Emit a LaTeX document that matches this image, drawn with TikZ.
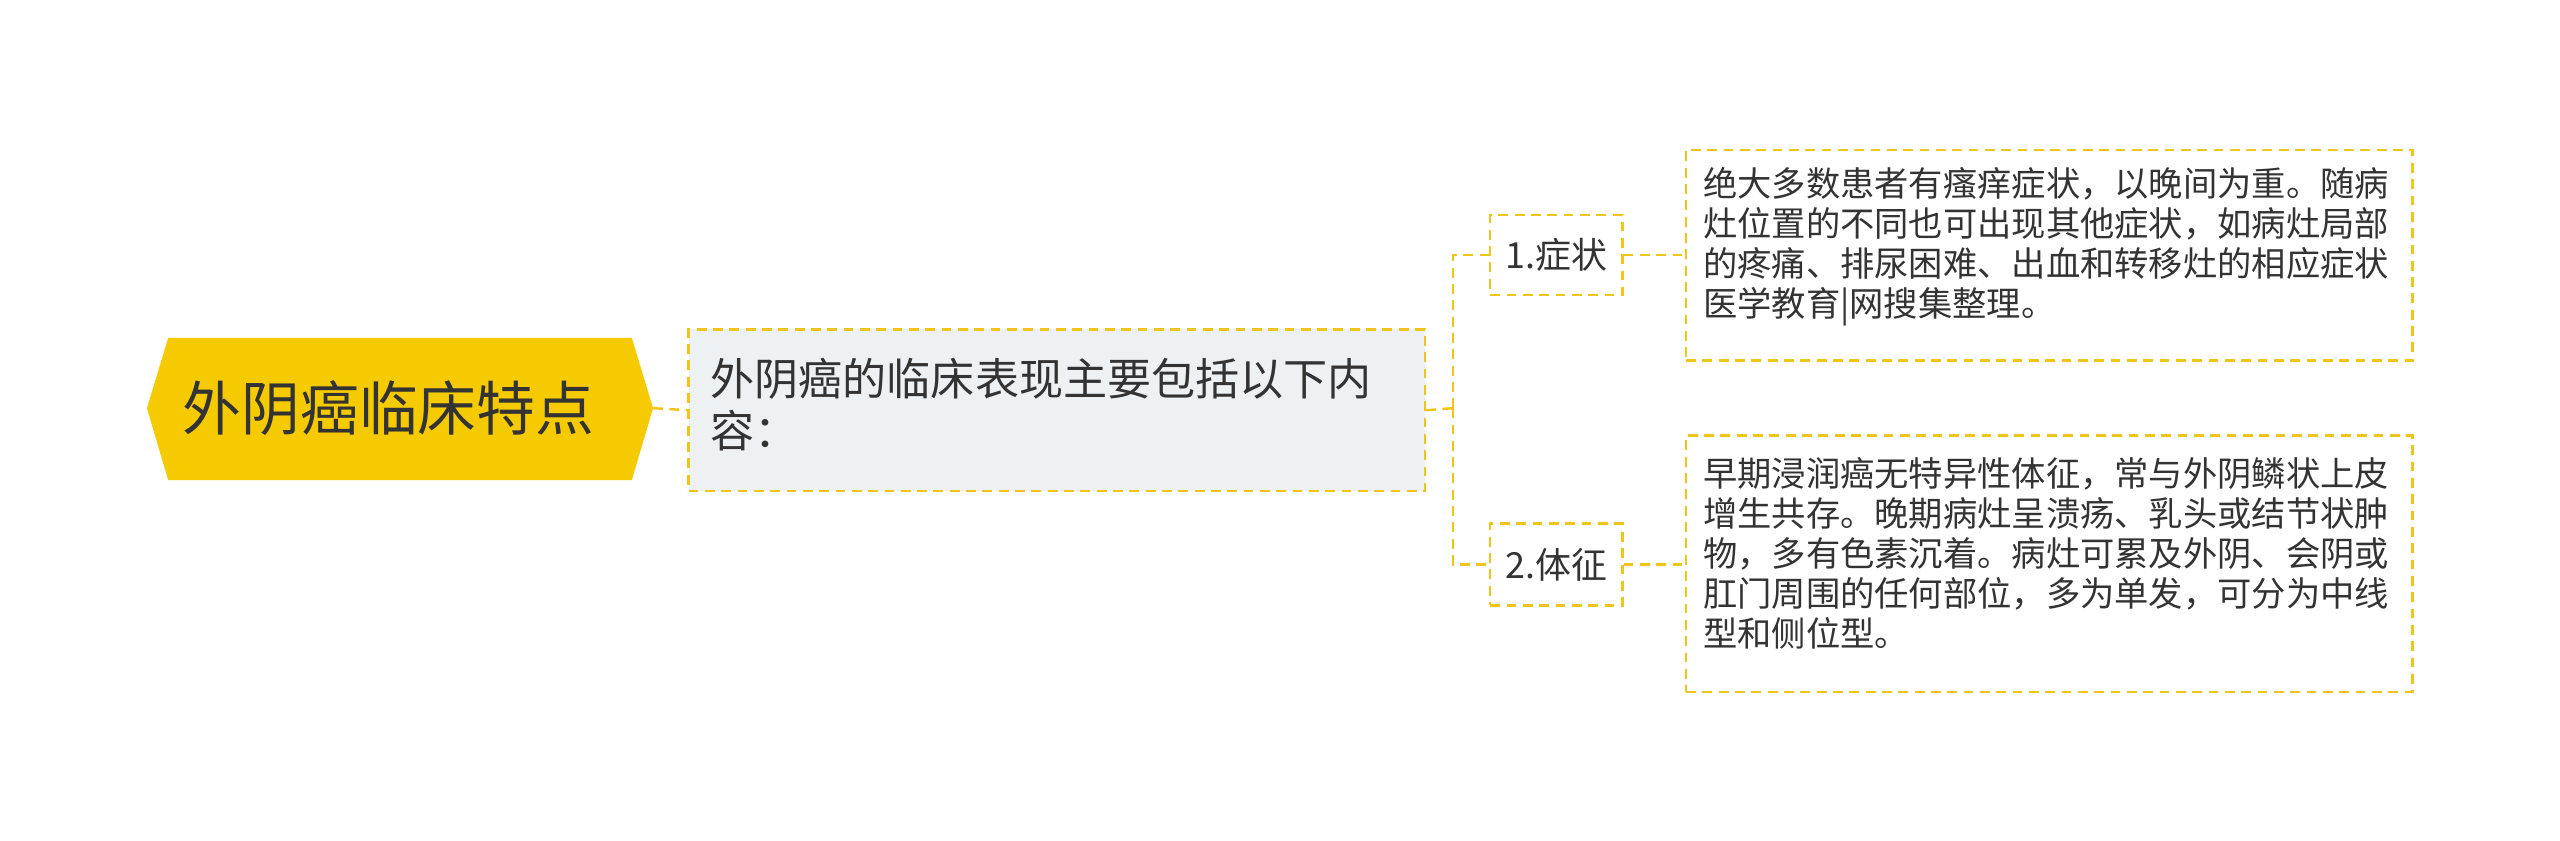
\documentclass[tikz,border=0pt]{standalone}
\usepackage{fontspec}
\setmainfont{Noto Sans CJK SC}
\definecolor{yel}{HTML}{F5CB00}
\definecolor{lnk}{HTML}{F0C419}
\definecolor{mainbg}{HTML}{EEF1F4}
\definecolor{txt}{HTML}{333333}
\begin{document}
\begin{tikzpicture}[x=1pt,y=1pt,
  dbox/.style={draw=lnk,line width=1.5pt,dash pattern=on 6pt off 4pt,text=txt,inner sep=0pt},
  conn/.style={draw=lnk,line width=1.5pt,dash pattern=on 6pt off 4pt}]
\useasboundingbox (0,0) rectangle (1568,-515);
\fill[white] (0,0) rectangle (1568,-515);
% root
\fill[yel] (90,-250) -- (103,-207) -- (387,-207) -- (400,-250) -- (387,-294) -- (103,-294) -- cycle;
\node[text=txt,font=\fontsize{36}{40}\selectfont] (root) at (238,-250) {外阴癌临床特点};
\coordinate (rootE) at (400,-250);
% main
\node[dbox,fill=mainbg,minimum width=451pt,minimum height=99pt,anchor=north west] (main) at (421,-201) {};
\node[text=txt,anchor=north west,align=left,font=\fontsize{27}{32}\selectfont,inner sep=0pt] (maint) at (435,-219) {外阴癌的临床表现主要包括以下内\\容：};
% branches
\node[dbox,minimum width=81pt,minimum height=49pt,anchor=north west,font=\fontsize{22}{26}\selectfont] (n1) at (912,-131) {1.症状};
\node[dbox,minimum width=81pt,minimum height=50pt,anchor=north west,font=\fontsize{22}{26}\selectfont] (n2) at (912,-320) {2.体征};
% leaves
\node[dbox,minimum width=445pt,minimum height=129pt,anchor=north west] (l1) at (1032,-91) {};
\node[text=txt,anchor=north west,align=left,font=\fontsize{21}{24.5}\selectfont,inner sep=0pt] (l1t) at (1043,-102) {绝大多数患者有瘙痒症状，以晚间为重。随病\\灶位置的不同也可出现其他症状，如病灶局部\\的疼痛、排尿困难、出血和转移灶的相应症状\\医学教育|网搜集整理。};
\node[dbox,minimum width=445pt,minimum height=157pt,anchor=north west] (l2) at (1032,-266) {};
\node[text=txt,anchor=north west,align=left,font=\fontsize{21}{24.5}\selectfont,inner sep=0pt] (l2t) at (1043,-280) {早期浸润癌无特异性体征，常与外阴鳞状上皮\\增生共存。晚期病灶呈溃疡、乳头或结节状肿\\物，多有色素沉着。病灶可累及外阴、会阴或\\肛门周围的任何部位，多为单发，可分为中线\\型和侧位型。};
% connectors
\draw[conn] (rootE) -- (main.west);
\coordinate (fork) at (890,-250);
\draw[conn] (main.east) -- (fork);
\draw[conn] (fork) |- (n1.west);
\draw[conn] (fork) |- (n2.west);
\draw[conn] (n1.east) -- (l1.west |- n1.east);
\draw[conn] (n2.east) -- (l2.west |- n2.east);
\end{tikzpicture}
\end{document}
